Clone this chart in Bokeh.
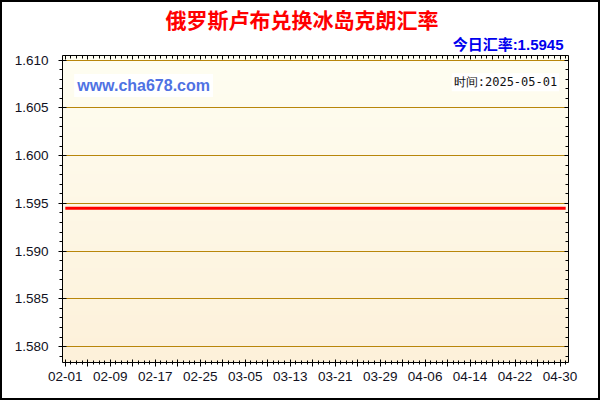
import numpy as np
import pandas as pd
from bokeh.plotting import figure
from bokeh.models import (DatetimeAxis, LinearAxis, FixedTicker, SingleIntervalTicker,
                          PrintfTickFormatter, Label, Range1d, Grid, Title)
from bokeh.embed import file_html
from bokeh.resources import INLINE

# ---------------- data ----------------
title_text = "俄罗斯卢布兑换冰岛克朗汇率"
rate_text = "今日汇率:1.5945"
site_text = "www.cha678.com"
time_text = "时间:2025-05-01"

dates = pd.date_range("2025-02-01", "2025-05-01", freq="D")
rates = [
    1.5945, 1.5945, 1.5945, 1.5945, 1.5945, 1.5945, 1.5945, 1.5945, 1.5945, 1.5945,
    1.5945, 1.5945, 1.5945, 1.5945, 1.5945, 1.5945, 1.5945, 1.5945, 1.5945, 1.5945,
    1.5945, 1.5945, 1.5945, 1.5945, 1.5945, 1.5945, 1.5945, 1.5945, 1.5945, 1.5945,
    1.5945, 1.5945, 1.5945, 1.5945, 1.5945, 1.5945, 1.5945, 1.5945, 1.5945, 1.5945,
    1.5945, 1.5945, 1.5945, 1.5945, 1.5945, 1.5945, 1.5945, 1.5945, 1.5945, 1.5945,
    1.5945, 1.5945, 1.5945, 1.5945, 1.5945, 1.5945, 1.5945, 1.5945, 1.5945, 1.5945,
    1.5945, 1.5945, 1.5945, 1.5945, 1.5945, 1.5945, 1.5945, 1.5945, 1.5945, 1.5945,
    1.5945, 1.5945, 1.5945, 1.5945, 1.5945, 1.5945, 1.5945, 1.5945, 1.5945, 1.5945,
    1.5945, 1.5945, 1.5945, 1.5945, 1.5945, 1.5945, 1.5945, 1.5945, 1.5945, 1.5945,
]
tick_labels = ["02-01", "02-09", "02-17", "02-25", "03-05", "03-13",
               "03-21", "03-29", "04-06", "04-14", "04-22", "04-30"]
y_min, y_max = 1.57833, 1.61049

# ---------------- figure ----------------
x0 = dates[0] - pd.Timedelta(hours=12)
x1 = dates[-1] + pd.Timedelta(hours=12)

p = figure(width=600, height=400, output_backend="svg", toolbar_location=None,
           x_axis_type=None, y_axis_type=None, title=None,
           x_range=Range1d(x0, x1), y_range=Range1d(y_min, y_max),
           min_border_left=62, min_border_right=32, min_border_top=55, min_border_bottom=38)
p.background_fill_color = "#FFFCEC"
p.border_fill_color = "white"
p.border_fill_alpha = 0
p.outline_line_color = None
p.styles = {"box-shadow": "inset 0 0 0 2px black", "background-color": "white"}

# gradient background
rows = 300
top = np.array([255, 254, 242], dtype=float)
bot = np.array([253, 241, 218], dtype=float)
img = np.zeros((rows, 1), dtype=np.uint32)
view = img.view(dtype=np.uint8).reshape((rows, 1, 4))
for i in range(rows):
    t = i / (rows - 1)
    c = bot + (top - bot) * t
    view[i, 0, 0] = int(c[0]); view[i, 0, 1] = int(c[1]); view[i, 0, 2] = int(c[2]); view[i, 0, 3] = 255
p.image_rgba(image=[img], x=x0, y=y_min, dw=(x1 - x0).total_seconds() * 1000,
             dh=y_max - y_min, level="image")

# tickers
base = dates[0]
major_ms = [int((base + pd.Timedelta(days=d)).timestamp() * 1000) for d in range(0, 89, 4)]
minor_ms = [int(d.timestamp() * 1000) for d in dates]
label_map = {}
for lbl in tick_labels:
    d = pd.Timestamp(f"2025-{lbl}")
    label_map[int(d.timestamp() * 1000)] = lbl
overrides = {m: label_map.get(m, "") for m in major_ms}
xticker = FixedTicker(ticks=major_ms, minor_ticks=minor_ms)
yticker = SingleIntervalTicker(interval=0.005, num_minor_ticks=5)

xb = DatetimeAxis(ticker=xticker, major_label_overrides=overrides)
xb.axis_line_color = "black"
xb.major_tick_in = 3; xb.major_tick_out = 4
xb.minor_tick_in = 2; xb.minor_tick_out = 2
xb.major_label_standoff = 5
xb.major_label_text_font = "Liberation Sans"
xb.major_label_text_font_size = "13.5px"
xb.major_label_text_color = "#111122"
p.add_layout(xb, "below")

yl = LinearAxis(ticker=yticker, formatter=PrintfTickFormatter(format="%.3f"))
yl.axis_line_color = "black"
yl.major_tick_in = 4; yl.major_tick_out = 4
yl.minor_tick_in = 0; yl.minor_tick_out = 3
yl.major_label_standoff = 10
yl.major_label_text_font = "Liberation Sans"
yl.major_label_text_font_size = "13.5px"
yl.major_label_text_color = "#111122"
p.add_layout(yl, "left")

yr = LinearAxis(ticker=yticker, formatter=PrintfTickFormatter(format=""))
yr.axis_line_color = "black"
yr.major_tick_in = 4; yr.major_tick_out = 0
yr.minor_tick_in = 3; yr.minor_tick_out = 0
yr.major_label_standoff = 0
p.add_layout(yr, "right")

xt = DatetimeAxis(ticker=xticker, major_label_overrides={m: "" for m in major_ms})
xt.axis_line_color = "black"
xt.major_tick_in = 4; xt.major_tick_out = 0
xt.minor_tick_in = 3; xt.minor_tick_out = 0
xt.major_label_standoff = 0
p.add_layout(xt, "above")

# titles (added after the top axis, so they stack above it)
CJK = "Liberation Sans, Noto Sans CJK SC"
p.add_layout(Title(text=rate_text, align="right", offset=5, standoff=5,
                   text_font=CJK, text_font_size="15px",
                   text_font_style="bold", text_color="#0000EE"), "above")
p.add_layout(Title(text=title_text, align="left", offset=103, standoff=0,
                   text_font=CJK, text_font_size="21px",
                   text_font_style="bold", text_color="#FF0000"), "above")

grid = Grid(dimension=1, ticker=yticker, grid_line_color="#B8860B", grid_line_width=1)
p.add_layout(grid)

# data line
p.line(dates, rates, line_color="#FF0000", line_width=3)

# texts inside the plot (screen units relative to the plot frame)
p.add_layout(Label(x=11.7, y=277, x_units="screen", y_units="screen", text=site_text,
                   text_font="Liberation Sans", text_font_size="16px", text_font_style="bold",
                   text_color="#4F72E3", text_align="left", text_baseline="middle",
                   background_fill_color="white", padding=3))
p.add_layout(Label(x=496.7, y=280.3, x_units="screen", y_units="screen", text=time_text,
                   text_font="DejaVu Sans Mono", text_font_size="12px",
                   text_color="#111111", text_align="right", text_baseline="middle",
                   background_fill_color="white", padding=2))

open("out.html", "w").write(file_html(p, INLINE))
